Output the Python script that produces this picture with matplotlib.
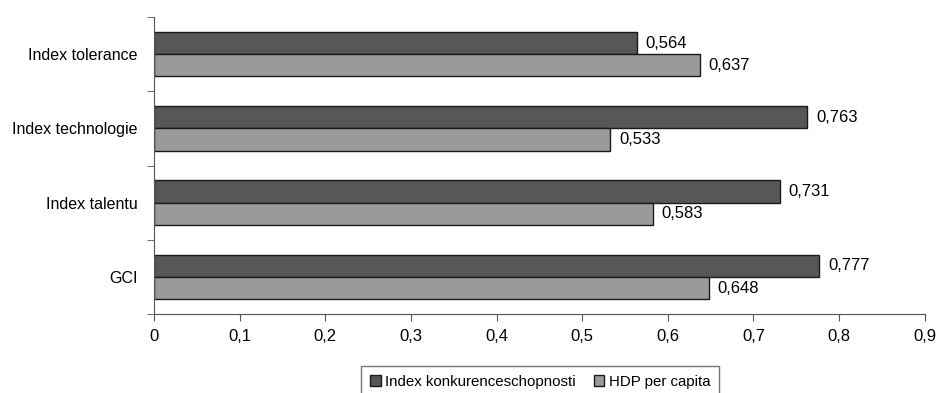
import matplotlib.pyplot as plt
import numpy as np

plt.rcParams['font.family'] = ['Liberation Sans', 'DejaVu Sans']

categories = ["GCI", "Index talentu", "Index technologie", "Index tolerance"]
konkurence = [0.777, 0.731, 0.763, 0.564]
hdp = [0.648, 0.583, 0.533, 0.637]
series_names = ["Index konkurenceschopnosti", "HDP per capita"]
xticks = [0, 0.1, 0.2, 0.3, 0.4, 0.5, 0.6, 0.7, 0.8, 0.9]

fig = plt.figure(figsize=(9.36, 3.93), dpi=100)
ax = fig.add_axes([0.1645, 0.201, 0.8235, 0.7557])

y = np.arange(len(categories))
h = 0.3
b1 = ax.barh(y + h / 2, konkurence, height=h, color="#575757", edgecolor="#1a1a1a",
             linewidth=1, label=series_names[0])
b2 = ax.barh(y - h / 2, hdp, height=h, color="#9a9a9a", edgecolor="#1a1a1a",
             linewidth=1, label=series_names[1])

for bars, vals in [(b1, konkurence), (b2, hdp)]:
    for bar, v in zip(bars, vals):
        ax.text(v + 0.01, bar.get_y() + bar.get_height() / 2,
                f"{v:.3f}".replace(".", ","), va="center", ha="left", fontsize=12)

ax.set_xlim(0, 0.9)
ax.set_ylim(-0.5, len(categories) - 0.5)
ax.set_xticks(xticks)
ax.set_xticklabels([f"{t:g}".replace(".", ",") for t in xticks], fontsize=12)
ax.set_yticks(y)
ax.set_yticklabels(categories, fontsize=11.5)
ax.tick_params(axis="y", length=0, pad=11.5)
ax.set_yticks(np.arange(len(categories) + 1) - 0.5, minor=True)
ax.tick_params(axis="y", which="minor", length=5, color="#555555")
ax.tick_params(axis="x", length=5, color="#555555", pad=6)

for s in ["top", "right"]:
    ax.spines[s].set_visible(False)
ax.spines["left"].set_color("#555555")
ax.spines["bottom"].set_color("#555555")

leg = fig.legend(handles=[b1, b2], loc="upper center", bbox_to_anchor=(0.577, 0.069),
                 ncol=2, fontsize=10.8, frameon=True, fancybox=False, borderaxespad=0,
                 handlelength=0.7, handleheight=0.7, handletextpad=0.3,
                 columnspacing=1.2, borderpad=0.6)
leg.get_frame().set_edgecolor("#555555")
leg.get_frame().set_linewidth(1)

fig.savefig("out.png", dpi=100)
